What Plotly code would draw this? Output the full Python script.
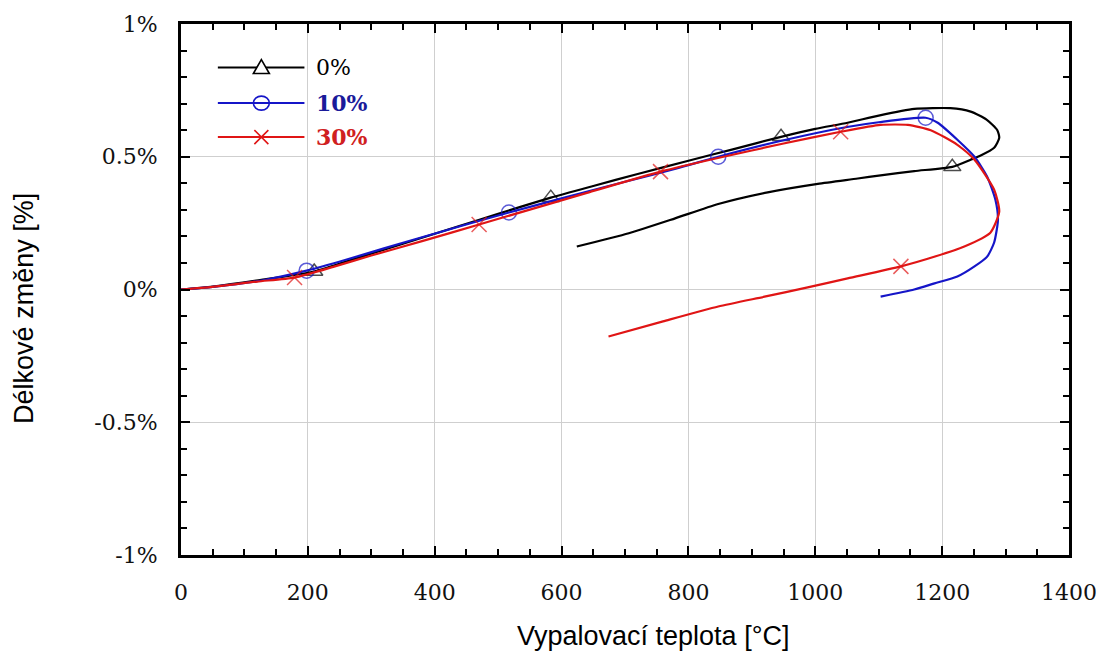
import plotly.graph_objects as go

# ---------------- data ----------------
# 0 % sample  (temperature °C, length change %)
T0 = [0, 50, 129, 210, 260, 320, 380, 440, 500, 583, 650, 720, 800, 870, 946, 1000, 1051,
      1100, 1156, 1213, 1245, 1270, 1287, 1290, 1282, 1260, 1245, 1216, 1156, 1103, 1067,
      1004, 925, 847, 779, 706, 624]
D0 = [0, 0.011, 0.037, 0.068, 0.105, 0.150, 0.195, 0.240, 0.285, 0.346, 0.390, 0.435,
      0.485, 0.528, 0.575, 0.605, 0.628, 0.655, 0.680, 0.683, 0.670, 0.640, 0.600, 0.571,
      0.534, 0.504, 0.489, 0.462, 0.446, 0.430, 0.418, 0.398, 0.366, 0.322, 0.268, 0.212,
      0.162]
MARK_T0 = [210, 583, 946, 1216]

# 10 % sample
T10 = [0, 50, 129, 198, 260, 320, 380, 440, 517, 600, 700, 780, 847, 950, 1050, 1100,
       1174, 1193, 1224, 1251, 1271, 1284, 1288, 1282, 1271, 1251, 1224, 1188, 1156, 1103]
D10 = [0, 0.010, 0.035, 0.071, 0.112, 0.155, 0.197, 0.238, 0.290, 0.343, 0.406, 0.455,
       0.500, 0.562, 0.612, 0.630, 0.647, 0.628, 0.564, 0.500, 0.425, 0.338, 0.263, 0.177,
       0.124, 0.087, 0.049, 0.023, 0.0, -0.027]
MARK_T10 = [198, 517, 847, 1174]

# 30 % sample
T30 = [0, 50, 120, 179, 240, 300, 380, 470, 550, 640, 756, 850, 950, 1040, 1103, 1146,
       1182, 1224, 1251, 1282, 1290, 1276, 1235, 1190, 1135, 1051, 988, 920, 847, 760, 674]
D30 = [0, 0.010, 0.030, 0.045, 0.085, 0.128, 0.182, 0.245, 0.301, 0.364, 0.444, 0.497,
       0.550, 0.594, 0.620, 0.620, 0.600, 0.545, 0.489, 0.376, 0.293, 0.214, 0.162, 0.125,
       0.087, 0.042, 0.008, -0.027, -0.064, -0.120, -0.177]
MARK_T30 = [179, 470, 756, 1040, 1135]

SERIES = ["0%", "10%", "30%"]
X_TICKS = [0, 200, 400, 600, 800, 1000, 1200, 1400]
Y_TICKS = [1, 0.5, 0, -0.5, -1]
Y_TICK_TEXT = ["1%", "0.5%", "0%", "-0.5%", "-1%"]

# ---------------- figure ----------------
TICK_FONT = dict(family="DejaVu Serif", size=22, color="#111111")
MSIZE = 15
COLORS = ["#000000", "#1515c8", "#e01515"]
TEXT_COLORS = ["#000000", "#1a1a9a", "#d02020"]
SYMBOLS = ["triangle-up-open", "circle-open", "x-thin-open"]

fig = go.Figure()

for tx, dy, marks, nm, col, sym in zip([T0, T10, T30], [D0, D10, D30],
                                       [MARK_T0, MARK_T10, MARK_T30], SERIES, COLORS, SYMBOLS):
    sizes = [MSIZE if t in marks else 0 for t in tx]
    fig.add_trace(go.Scatter(
        x=tx, y=dy, mode="lines+markers", name=nm, showlegend=False,
        line=dict(color=col, width=2.2, shape="spline", smoothing=0.6),
        marker=dict(symbol=sym, size=sizes, color=col, line=dict(color=col, width=1.5)),
        hoverinfo="skip",
    ))

# ---------- hand-made legend (long key lines as in the reference) ----------
LEG_X0, LEG_X1, LEG_XM, LEG_TX = 0.0415, 0.139, 0.0905, 0.150
LEG_ROWS = [0.918, 0.851, 0.787]
shapes = []
annotations = []
for i, (nm, col, tcol) in enumerate(zip(SERIES, COLORS, TEXT_COLORS)):
    yy = LEG_ROWS[i]
    shapes.append(dict(type="line", xref="paper", yref="paper", x0=LEG_X0, x1=LEG_X1,
                       y0=yy, y1=yy, line=dict(color=col, width=2)))
    if i == 0:   # open triangle
        shapes.append(dict(type="path", xref="paper", yref="paper", xsizemode="pixel",
                           ysizemode="pixel", xanchor=LEG_XM, yanchor=yy,
                           path="M0,8 L8,-6 L-8,-6 Z", fillcolor="white",
                           line=dict(color=col, width=1.6)))
    elif i == 1:  # open circle
        shapes.append(dict(type="circle", xref="paper", yref="paper", xsizemode="pixel",
                           ysizemode="pixel", xanchor=LEG_XM, yanchor=yy,
                           x0=-8, x1=8, y0=-7, y1=7, fillcolor="rgba(0,0,0,0)",
                           line=dict(color=col, width=1.6)))
    else:         # x
        shapes.append(dict(type="path", xref="paper", yref="paper", xsizemode="pixel",
                           ysizemode="pixel", xanchor=LEG_XM, yanchor=yy,
                           path="M-7,-7 L7,7 M-7,7 L7,-7", line=dict(color=col, width=1.6)))
    label = nm if i == 0 else "<b>" + nm + "</b>"
    annotations.append(dict(text=label, xref="paper", yref="paper", x=LEG_TX, y=yy,
                            xanchor="left", yanchor="middle", showarrow=False,
                            font=dict(family="DejaVu Serif", size=22, color=tcol)))

TITLE_FONT = dict(family="Liberation Sans, Arial", size=27, color="black")
annotations.append(dict(text="Vypalovací teplota [°C]", xref="paper", yref="paper",
                        x=0.532, y=-0.152, xanchor="center", yanchor="middle",
                        showarrow=False, font=TITLE_FONT))
annotations.append(dict(text="Délkové změny [%]", xref="paper", yref="paper",
                        x=-0.177, y=0.465, xanchor="center", yanchor="middle", textangle=-90,
                        showarrow=False, font=TITLE_FONT))

fig.update_layout(
    width=1109, height=652,
    margin=dict(l=181, r=37, t=23, b=97),
    paper_bgcolor="white", plot_bgcolor="white",
    showlegend=False,
    shapes=shapes, annotations=annotations,
)

fig.update_xaxes(
    range=[0, 1400], tickvals=X_TICKS, ticktext=[str(v) for v in X_TICKS],
    showline=True, linecolor="black", linewidth=3, mirror="ticks",
    ticks="inside", ticklen=9, tickwidth=2, tickcolor="black",
    minor=dict(dtick=50, ticks="inside", ticklen=6, tickwidth=2, tickcolor="black", showgrid=False),
    showgrid=True, gridcolor="#cfcfcf", gridwidth=1, zeroline=False,
    tickfont=TICK_FONT, ticklabelstandoff=16,
)
fig.update_yaxes(
    range=[-1, 1], tickvals=Y_TICKS, ticktext=Y_TICK_TEXT,
    showline=True, linecolor="black", linewidth=3, mirror="ticks",
    ticks="inside", ticklen=9, tickwidth=2, tickcolor="black",
    minor=dict(dtick=0.1, ticks="inside", ticklen=6, tickwidth=2, tickcolor="black", showgrid=False),
    showgrid=True, gridcolor="#cfcfcf", gridwidth=1, zeroline=False,
    tickfont=TICK_FONT, ticklabelstandoff=16,
)

fig.write_html("out.html", config={"displayModeBar": False},
               post_script="document.body.style.margin='0';")
